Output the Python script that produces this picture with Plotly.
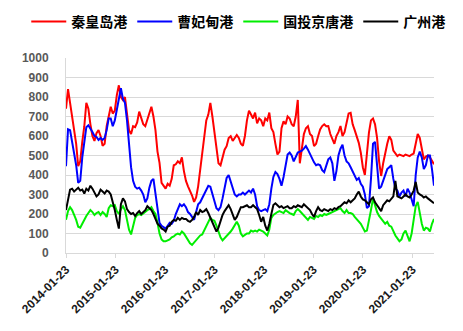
import pandas as pd
import plotly.graph_objects as go

# Sampling dates (every 15 days from the first observation)
dates = pd.date_range(start="2014-01-23", periods=182, freq="15D")

series_names = ["秦皇岛港", "曹妃甸港", "国投京唐港", "广州港"]
series_colors = ["#FF0000", "#0000FF", "#00EE00", "#000000"]

qinhuangdao = [
    740, 840, 770, 700, 655, 560, 445, 470, 570, 650,
    770, 740, 660, 600, 575, 615, 630, 600, 550, 560,
    650, 700, 750, 715, 730, 810, 860, 800, 785, 800,
    720, 630, 610, 650, 645, 670, 725, 690, 660, 650,
    680, 710, 750, 700, 630, 520, 462, 360, 345, 330,
    355, 345, 380, 450, 455, 470, 460, 490, 420, 370,
    342, 320, 295, 262, 285, 342, 420, 510, 590, 680,
    710, 770, 700, 610, 531, 460, 450, 495, 530, 548,
    590, 599, 575, 590, 605, 590, 560, 550, 600, 680,
    730, 710, 690, 720, 665, 690, 680, 650, 690, 680,
    720, 640, 620, 560, 505, 520, 640, 675, 660, 700,
    690, 660, 650, 700, 785, 460, 540, 610, 640, 650,
    610, 600, 548, 560, 599, 634, 651, 660, 650, 651,
    610, 582, 560, 600, 620, 651, 600, 620, 668, 715,
    719, 660, 630, 599, 565, 514, 440, 400, 531, 617,
    680, 690, 660, 590, 470, 395, 460, 520, 560, 599,
    580, 525, 510, 497, 505, 500, 497, 505, 500, 497,
    505, 510, 560, 610, 590, 530, 480, 495, 500, 490,
    470, 455,
]

caofeidian = [
    445, 635, 630, 570, 510, 450, 360, 370, 490, 580,
    645, 655, 640, 620, 600, 595, 580, 590, 580, 590,
    630, 690, 690, 650, 680, 740, 800, 845, 790, 770,
    680, 560, 440, 370, 340, 330, 335, 320, 300, 260,
    280, 335, 370, 380, 300, 210, 155, 140, 130, 125,
    140, 155, 150, 165, 200, 230, 250, 240, 250, 235,
    210, 200, 185, 170, 210, 250, 260, 280, 300, 320,
    345, 340, 300, 260, 230, 220, 235, 280, 340, 385,
    400, 370, 330, 300, 290, 300, 300, 310, 300, 310,
    320, 310, 330, 300, 240, 220, 215, 220, 225, 215,
    250, 330, 390, 415, 405, 380, 345, 390, 460, 505,
    515, 500, 470, 495, 515, 520, 525, 535, 548, 530,
    505, 480, 465, 450, 455, 450, 425, 415, 450, 480,
    490, 460, 370, 420, 500, 535, 555, 500, 470, 460,
    440, 420, 400, 375, 385, 355, 340, 300, 230, 240,
    380, 560, 570, 450, 330, 340, 370, 410, 430, 440,
    450, 380, 330, 320, 290, 310, 320, 290, 330, 310,
    280, 240, 400, 490, 520, 490, 430, 450, 500, 500,
    430, 345,
]

jingtang = [
    170, 215, 235, 220, 195, 170, 135, 130, 150, 175,
    190, 205, 220, 210, 195, 205, 210, 195, 210, 200,
    185, 230, 245, 240, 245, 215, 200, 225, 240, 220,
    170, 120, 95, 140, 180, 195, 200, 195, 205, 215,
    220, 225, 235, 215, 200, 155, 100, 70, 60, 60,
    65, 70, 80, 85, 95, 100, 95, 110, 100, 85,
    65, 50, 42, 55, 65, 75, 90, 95, 115, 135,
    160, 180, 170, 165, 140, 110, 80, 65, 75, 85,
    95, 110, 125, 145, 160, 140, 100, 85, 95, 100,
    100, 115, 110, 115, 110, 120, 115, 110, 100, 90,
    120, 180, 195, 205, 210, 215, 210, 205, 220, 210,
    205, 200, 195, 215, 225, 215, 205, 195, 180, 170,
    185, 180, 175, 190, 185, 195, 190, 200, 195, 200,
    205, 210, 215, 220, 225, 230, 215, 205, 220, 205,
    205, 200, 185, 175, 160, 150, 130, 110, 115, 160,
    220, 280, 240, 210, 190, 175, 165, 150, 160, 140,
    135, 110, 90, 75, 60, 70, 100, 115, 90, 60,
    100, 170, 240, 262, 200, 150, 115, 130, 125, 110,
    150, 175,
]

guangzhou = [
    220, 280, 325, 330, 315, 325, 335, 320, 325, 305,
    330, 320, 345, 330, 310, 290, 300, 325, 315, 305,
    320, 315, 300, 265, 220, 170, 125, 250, 280, 265,
    225, 210, 200, 205, 190, 205, 215, 200, 210, 220,
    240, 230, 220, 200, 170, 150, 140, 126, 120, 110,
    135, 140, 160, 170, 165, 180, 170, 180, 175, 175,
    165, 160, 170, 185, 210, 195, 220, 210, 215, 225,
    205, 180, 160, 130, 110, 130, 170, 195, 215, 230,
    245, 225, 200, 170, 185, 215, 235, 235, 240, 245,
    235, 235, 245, 235, 225, 195, 160, 185, 140, 115,
    150, 200, 246, 255, 245, 235, 240, 230, 235, 240,
    230, 230, 240, 235, 245, 240, 235, 250, 240, 230,
    220, 200, 185, 215, 235, 220, 215, 225, 220, 215,
    225, 220, 230, 225, 235, 240, 250, 260, 255, 270,
    260, 270, 280, 300, 315, 290, 275, 270, 260, 250,
    275, 285, 260, 245, 225, 215, 245, 260, 270, 265,
    275, 290, 370, 290, 285, 280, 290, 300, 290, 285,
    300, 320, 365, 310, 300, 295, 285, 290, 280, 270,
    265, 255,
]

tick_labels = [
    "2014-01-23", "2015-01-23", "2016-01-23", "2017-01-23",
    "2018-01-23", "2019-01-23", "2020-01-23", "2021-01-23",
]
y_ticks = list(range(0, 1001, 100))

all_series = [qinhuangdao, caofeidian, jingtang, guangzhou]

fig = go.Figure()
for name, color, values in zip(series_names, series_colors, all_series):
    fig.add_trace(go.Scatter(
        x=dates, y=values, name=name, mode="lines",
        line=dict(color=color, width=2),
    ))

cjk = "Noto Sans CJK SC, Noto Sans, sans-serif"
latin = "Liberation Sans, Arial, sans-serif"

fig.update_layout(
    width=463, height=331,
    margin=dict(l=66, r=29, t=58, b=78, autoexpand=False),
    paper_bgcolor="white", plot_bgcolor="white",
    showlegend=True,
    legend=dict(
        orientation="h",
        x=-0.108, xanchor="left",
        y=1.185, yanchor="middle",
        font=dict(family=cjk, size=14, color="#000000", weight="bold"),
        itemwidth=35, tracegroupgap=0,
        bgcolor="rgba(0,0,0,0)",
    ),
    xaxis=dict(
        type="date",
        range=[dates[0], dates[-1]],
        tickvals=pd.to_datetime(tick_labels),
        ticktext=tick_labels,
        tickangle=-45,
        tickfont=dict(family=latin, size=12, color="#1a1a1a", weight="bold"),
        showgrid=False,
        showline=True, linecolor="#d9d9d9", linewidth=1,
        ticks="outside", ticklen=4, tickcolor="#d9d9d9",
        zeroline=False,
    ),
    yaxis=dict(
        range=[0, 1000],
        tickvals=y_ticks,
        tickfont=dict(family=latin, size=12, color="#595959", weight="bold"),
        showgrid=True, gridcolor="#d9d9d9", gridwidth=1,
        showline=True, linecolor="#d9d9d9", linewidth=1,
        ticks="", ticklabelstandoff=14,
        zeroline=False,
    ),
)

fig.write_html("out.html")
